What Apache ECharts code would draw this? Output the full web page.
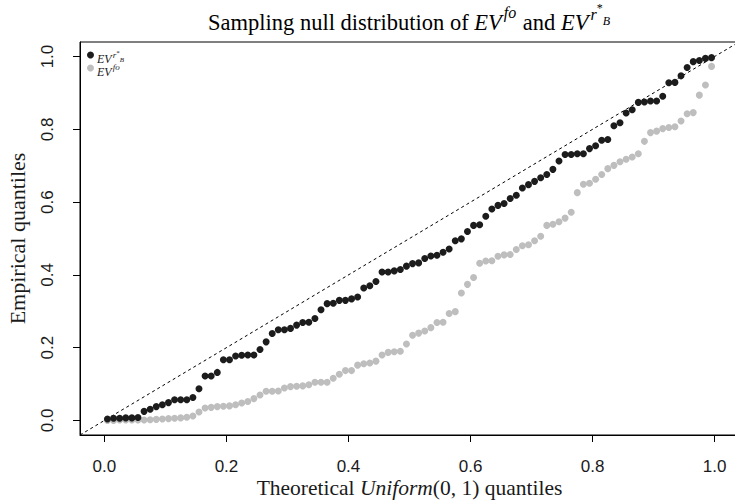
<!DOCTYPE html>
<html><head><meta charset="utf-8">
<script src="https://cdn.jsdelivr.net/npm/echarts@6/dist/echarts.min.js"></script>
<style>html,body{margin:0;padding:0;background:#fff}#c{width:735px;height:501px}</style>
</head><body><div id="c"></div>
<script>
// Theoretical Uniform(0,1) quantiles (x positions of the 100 points)
const theoreticalQuantiles = [
0.005,0.015,0.025,0.035,0.045,0.055,0.065,0.075,0.085,0.095,
0.105,0.115,0.125,0.135,0.145,0.155,0.165,0.175,0.185,0.195,
0.205,0.215,0.225,0.235,0.245,0.255,0.265,0.275,0.285,0.295,
0.305,0.315,0.325,0.335,0.345,0.355,0.365,0.375,0.385,0.395,
0.405,0.415,0.425,0.435,0.445,0.455,0.465,0.475,0.485,0.495,
0.505,0.515,0.525,0.535,0.545,0.555,0.565,0.575,0.585,0.595,
0.605,0.615,0.625,0.635,0.645,0.655,0.665,0.675,0.685,0.695,
0.705,0.715,0.725,0.735,0.745,0.755,0.765,0.775,0.785,0.795,
0.805,0.815,0.825,0.835,0.845,0.855,0.865,0.875,0.885,0.895,
0.905,0.915,0.925,0.935,0.945,0.955,0.965,0.975,0.985,0.995];

// Empirical quantiles of EV^{r*_B} (black)
const evRB = [
0.004,0.006,0.006,0.007,0.007,0.008,0.025,0.031,0.038,0.043,
0.049,0.057,0.057,0.057,0.063,0.087,0.122,0.122,0.132,0.167,
0.167,0.177,0.179,0.180,0.180,0.195,0.216,0.239,0.249,0.249,
0.253,0.262,0.269,0.270,0.280,0.304,0.321,0.322,0.330,0.330,
0.334,0.339,0.364,0.370,0.382,0.408,0.408,0.411,0.415,0.424,
0.431,0.433,0.445,0.452,0.454,0.462,0.471,0.494,0.499,0.519,
0.536,0.538,0.561,0.581,0.591,0.596,0.610,0.619,0.639,0.648,
0.657,0.667,0.676,0.690,0.713,0.731,0.731,0.733,0.733,0.747,
0.755,0.770,0.772,0.810,0.818,0.845,0.854,0.874,0.875,0.878,
0.878,0.891,0.928,0.929,0.947,0.970,0.986,0.989,0.995,0.997];

// Empirical quantiles of EV^{fo} (grey)
const evFo = [
0.000,0.000,0.001,0.001,0.001,0.001,0.001,0.002,0.003,0.004,
0.005,0.006,0.007,0.009,0.012,0.023,0.034,0.036,0.038,0.039,
0.040,0.043,0.048,0.052,0.060,0.070,0.080,0.080,0.081,0.089,
0.093,0.094,0.095,0.098,0.105,0.105,0.105,0.116,0.127,0.137,
0.137,0.152,0.156,0.158,0.163,0.180,0.187,0.189,0.190,0.210,
0.234,0.240,0.246,0.255,0.269,0.270,0.294,0.299,0.350,0.374,
0.393,0.432,0.438,0.439,0.451,0.455,0.456,0.470,0.480,0.483,
0.494,0.506,0.536,0.539,0.546,0.556,0.572,0.626,0.649,0.652,
0.663,0.676,0.692,0.701,0.711,0.718,0.724,0.733,0.767,0.791,
0.795,0.802,0.805,0.807,0.823,0.843,0.846,0.894,0.922,0.973];

const tickValues = [0, 0.2, 0.4, 0.6, 0.8, 1.0];
const tickLabels = ['0.0', '0.2', '0.4', '0.6', '0.8', '1.0'];
const axisRange = [-0.04, 1.04];

function tickLabel(v) {
  for (let k = 0; k < tickValues.length; k++) {
    if (Math.abs(tickValues[k] - v) < 1e-9) return tickLabels[k];
  }
  return '';
}
const zip = (xs, ys) => xs.map((x, k) => [x, ys[k]]);

const SERIF = "'Liberation Serif', 'Times New Roman', serif";
const SANS = "'Liberation Sans', Arial, Helvetica, sans-serif";
const INK = '#1a1a1a';

const chart = echarts.init(document.getElementById('c'), null, {renderer: 'svg'});

const axisCommon = {
  type: 'value',
  min: axisRange[0],
  max: axisRange[1],
  splitLine: {show: false},
  axisLine: {show: true, onZero: false, lineStyle: {color: '#000', width: 1}},
  axisTick: {show: true, inside: false, length: 7, customValues: tickValues, lineStyle: {color: '#000', width: 1}},
  axisLabel: {customValues: tickValues, formatter: tickLabel, color: INK, fontFamily: SANS, fontSize: 17}
};

const titleRich = {
  n: {fontFamily: SERIF, fontSize: 22.5, lineHeight: 22, padding: [9, 0, 0, 0], verticalAlign: 'top', color: INK},
  m: {fontFamily: SERIF, fontStyle: 'italic', fontSize: 22.5, lineHeight: 22, padding: [9, 0, 0, 0], verticalAlign: 'top', color: INK},
  s: {fontFamily: SERIF, fontStyle: 'italic', fontSize: 16, lineHeight: 16, padding: [2, 1, 0, 2], verticalAlign: 'top', color: INK},
  r: {fontFamily: SERIF, fontStyle: 'italic', fontSize: 16, lineHeight: 16, padding: [4, 0, 0, 2], verticalAlign: 'top', color: INK},
  st: {fontFamily: SERIF, fontSize: 12, lineHeight: 12, padding: [0, 0, 0, 0], verticalAlign: 'top', color: INK},
  b: {fontFamily: SERIF, fontStyle: 'italic', fontSize: 12, lineHeight: 12, padding: [13, 0, 0, 0], verticalAlign: 'top', color: INK}
};

const legendRich = {
  m: {fontFamily: SERIF, fontStyle: 'italic', fontSize: 12, lineHeight: 12, padding: [4, 0, 0, 0], verticalAlign: 'top', color: INK},
  s: {fontFamily: SERIF, fontStyle: 'italic', fontSize: 9, lineHeight: 9, padding: [0, 0, 0, 1], verticalAlign: 'top', color: INK},
  r: {fontFamily: SERIF, fontStyle: 'italic', fontSize: 9, lineHeight: 9, padding: [1, 0, 0, 1], verticalAlign: 'top', color: INK},
  st: {fontFamily: SERIF, fontSize: 7, lineHeight: 7, padding: [0, 0, 0, 0], verticalAlign: 'top', color: INK},
  b: {fontFamily: SERIF, fontStyle: 'italic', fontSize: 7, lineHeight: 7, padding: [7, 0, 0, 0], verticalAlign: 'top', color: INK}
};

const option = {
  backgroundColor: '#fff',
  animation: false,
  grid: {left: 80, top: 42, width: 659, height: 393, show: true, borderColor: '#000', borderWidth: 1,
         containLabel: false, outerBoundsMode: 'none'},
  graphic: [{
    type: 'text',
    x: 409,
    y: 2,
    style: {
      text: '{n|Sampling null distribution of }{m|EV}{s|fo}{n| and }{m|EV}{r|r}{st|*}{b|B}',
      rich: titleRich,
      align: 'center',
      verticalAlign: 'top'
    }
  }],
  legend: {
    show: true,
    data: ['rB', 'fo'],
    orient: 'vertical',
    left: 87,
    top: 49,
    itemWidth: 7,
    itemHeight: 7,
    itemGap: -3,
    icon: 'circle',
    padding: 0,
    formatter: name => name === 'rB' ? '{m|EV}{r|r}{st|*}{b|B}' : '{m|EV}{s|fo}',
    textStyle: {rich: legendRich, padding: [0, 0, 0, -2]}
  },
  xAxis: Object.assign({}, axisCommon, {
    position: 'bottom',
    name: '{n|Theoretical }{m|Uniform}{n|(0, 1) quantiles}',
    nameLocation: 'middle',
    nameGap: 42,
    nameMoveOverlap: false,
    nameTextStyle: {rich: {
      n: {fontFamily: SERIF, fontSize: 21.5, lineHeight: 22, color: INK},
      m: {fontFamily: SERIF, fontStyle: 'italic', fontSize: 21.5, lineHeight: 22, color: INK}
    }},
    axisLabel: Object.assign({}, axisCommon.axisLabel, {margin: 23})
  }),
  yAxis: Object.assign({}, axisCommon, {
    position: 'left',
    name: 'Empirical quantiles',
    nameLocation: 'middle',
    nameGap: 52,
    nameMoveOverlap: false,
    nameRotate: 90,
    nameTextStyle: {fontFamily: SERIF, fontSize: 22, lineHeight: 22, color: INK},
    axisLabel: Object.assign({}, axisCommon.axisLabel, {rotate: 90, margin: 24})
  }),
  series: [
    {
      name: 'diagonal',
      type: 'line',
      data: zip(axisRange, axisRange),
      symbol: 'none',
      silent: true,
      clip: true,
      lineStyle: {color: '#000', width: 1, type: [3, 3]},
      z: 1
    },
    {
      name: 'fo',
      type: 'scatter',
      data: zip(theoreticalQuantiles, evFo),
      symbol: 'circle',
      symbolSize: 7,
      itemStyle: {color: '#bebebe', opacity: 1},
      z: 2
    },
    {
      name: 'rB',
      type: 'scatter',
      data: zip(theoreticalQuantiles, evRB),
      symbol: 'circle',
      symbolSize: 7,
      itemStyle: {color: '#1c1c1c', opacity: 1},
      z: 3
    }
  ]
};
chart.setOption(option);
</script>
</body></html>
